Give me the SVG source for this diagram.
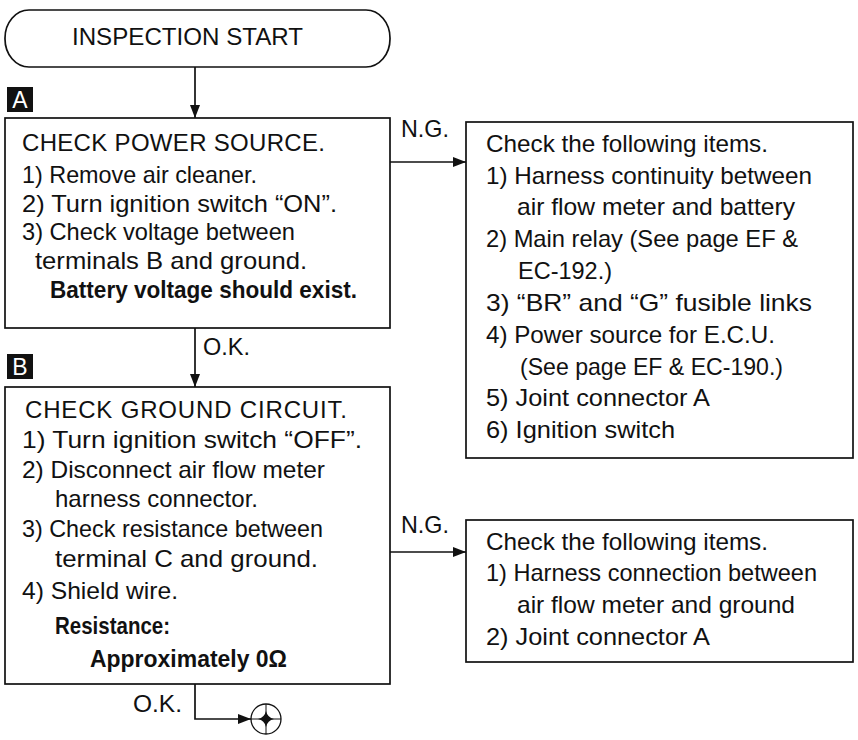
<svg xmlns="http://www.w3.org/2000/svg" width="858" height="740" viewBox="0 0 858 740">
<style>
.box{fill:none;stroke:#111;stroke-width:1.7}
.t{font-family:"Liberation Sans",Arial,sans-serif;font-size:24px;fill:#111}
.b{font-weight:bold}
.conn{fill:none;stroke:#111;stroke-width:1.7}
.tag{fill:#111}
.tagt{font-family:"Liberation Sans",Arial,sans-serif;font-size:23px;fill:#fff;text-anchor:middle}
</style>
<defs>
<marker id="ah" markerWidth="13" markerHeight="10" refX="13" refY="5" orient="auto" markerUnits="userSpaceOnUse"><path d="M0,0 L13,5 L0,10 Z" fill="#111"/></marker>
</defs>
<rect width="858" height="740" fill="#fff"/>

<g id="start">
<rect class="box" x="5" y="10" width="385" height="57" rx="24" ry="28"/>
<text class="t" x="72" y="45" textLength="231" lengthAdjust="spacingAndGlyphs">INSPECTION START</text>
</g>

<g id="tagA">
<rect class="tag" x="7" y="87" width="26" height="25"/>
<text class="tagt" x="20" y="108">A</text>
</g>

<g id="boxA">
<rect class="box" x="5" y="118" width="385" height="210"/>
<text class="t" x="22" y="151" textLength="303" lengthAdjust="spacing">CHECK POWER SOURCE.</text>
<text class="t" x="22" y="183" textLength="235" lengthAdjust="spacingAndGlyphs">1) Remove air cleaner.</text>
<text class="t" x="22" y="212" textLength="315" lengthAdjust="spacingAndGlyphs">2) Turn ignition switch “ON”.</text>
<text class="t" x="22" y="240" textLength="273" lengthAdjust="spacingAndGlyphs">3) Check voltage between</text>
<text class="t" x="35" y="269" textLength="272" lengthAdjust="spacingAndGlyphs">terminals B and ground.</text>
<text class="t b" x="50" y="298" textLength="307" lengthAdjust="spacingAndGlyphs">Battery voltage should exist.</text>
</g>

<g id="boxNG1">
<rect class="box" x="466" y="122" width="387" height="336"/>
<text class="t" x="486" y="152" textLength="282" lengthAdjust="spacingAndGlyphs">Check the following items.</text>
<text class="t" x="486" y="184" textLength="326" lengthAdjust="spacingAndGlyphs">1) Harness continuity between</text>
<text class="t" x="517" y="215" textLength="278" lengthAdjust="spacingAndGlyphs">air flow meter and battery</text>
<text class="t" x="486" y="247" textLength="312" lengthAdjust="spacingAndGlyphs">2) Main relay (See page EF &amp;</text>
<text class="t" x="518" y="279" textLength="94" lengthAdjust="spacingAndGlyphs">EC-192.)</text>
<text class="t" x="486" y="311" textLength="326" lengthAdjust="spacingAndGlyphs">3) “BR” and “G” fusible links</text>
<text class="t" x="486" y="343" textLength="289" lengthAdjust="spacingAndGlyphs">4) Power source for E.C.U.</text>
<text class="t" x="520" y="375" textLength="263" lengthAdjust="spacingAndGlyphs">(See page EF &amp; EC-190.)</text>
<text class="t" x="486" y="406" textLength="224" lengthAdjust="spacingAndGlyphs">5) Joint connector A</text>
<text class="t" x="486" y="438" textLength="189" lengthAdjust="spacingAndGlyphs">6) Ignition switch</text>
</g>

<g id="tagB">
<rect class="tag" x="7" y="354" width="26" height="25"/>
<text class="tagt" x="20" y="375">B</text>
</g>

<g id="boxB">
<rect class="box" x="5" y="387" width="385" height="297"/>
<text class="t" x="25" y="418" textLength="322" lengthAdjust="spacing">CHECK GROUND CIRCUIT.</text>
<text class="t" x="22" y="448" textLength="340" lengthAdjust="spacingAndGlyphs">1) Turn ignition switch “OFF”.</text>
<text class="t" x="22" y="478" textLength="303" lengthAdjust="spacingAndGlyphs">2) Disconnect air flow meter</text>
<text class="t" x="55" y="507" textLength="203" lengthAdjust="spacingAndGlyphs">harness connector.</text>
<text class="t" x="22" y="537" textLength="301" lengthAdjust="spacingAndGlyphs">3) Check resistance between</text>
<text class="t" x="55" y="567" textLength="263" lengthAdjust="spacingAndGlyphs">terminal C and ground.</text>
<text class="t" x="22" y="599" textLength="156" lengthAdjust="spacingAndGlyphs">4) Shield wire.</text>
<text class="t b" x="55" y="634" textLength="115" lengthAdjust="spacingAndGlyphs">Resistance:</text>
<text class="t b" x="90" y="667" textLength="197" lengthAdjust="spacingAndGlyphs">Approximately 0Ω</text>
</g>

<g id="boxNG2">
<rect class="box" x="466" y="520" width="387" height="142"/>
<text class="t" x="486" y="550" textLength="282" lengthAdjust="spacingAndGlyphs">Check the following items.</text>
<text class="t" x="486" y="581" textLength="331" lengthAdjust="spacingAndGlyphs">1) Harness connection between</text>
<text class="t" x="517" y="613" textLength="278" lengthAdjust="spacingAndGlyphs">air flow meter and ground</text>
<text class="t" x="486" y="645" textLength="224" lengthAdjust="spacingAndGlyphs">2) Joint connector A</text>
</g>

<g id="offpage">
<circle cx="266" cy="719" r="15" fill="#fff" stroke="#111" stroke-width="1.3"/>
<path d="M251,719 H281 M266,704 V734" stroke="#111" stroke-width="1"/>
<path d="M266,711 Q267.5,717.5 274,719 Q267.5,720.5 266,727 Q264.5,720.5 258,719 Q264.5,717.5 266,711 Z" fill="#111"/>
</g>

<g id="connectors">
<path class="conn" d="M195,67 V118" marker-end="url(#ah)"/>
<path class="conn" d="M390,162 H466" marker-end="url(#ah)"/>
<path class="conn" d="M195,328 V387" marker-end="url(#ah)"/>
<path class="conn" d="M390,552 H466" marker-end="url(#ah)"/>
<path class="conn" d="M195,684 V719 H251" marker-end="url(#ah)"/>
<text class="t" x="401" y="137" textLength="48" lengthAdjust="spacingAndGlyphs">N.G.</text>
<text class="t" x="203" y="355" textLength="47" lengthAdjust="spacingAndGlyphs">O.K.</text>
<text class="t" x="401" y="533" textLength="48" lengthAdjust="spacingAndGlyphs">N.G.</text>
<text class="t" x="133" y="712" textLength="49" lengthAdjust="spacingAndGlyphs">O.K.</text>
</g>
</svg>
